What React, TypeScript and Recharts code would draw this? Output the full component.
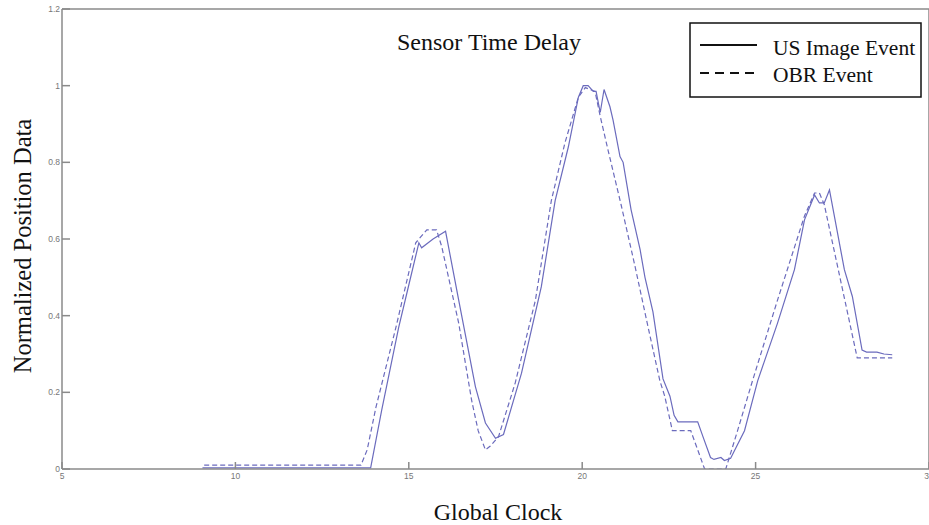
import React from 'react';
import { LineChart, Line, XAxis, YAxis, Customized } from 'recharts';

const usX = [9.05, 13.9, 14.22, 14.71, 15.0, 15.29, 15.37, 15.7, 16.06, 16.44, 16.92, 17.21, 17.5, 17.73, 18.25, 18.82, 19.22, 19.6, 19.89, 20.03, 20.17, 20.32, 20.4, 20.52, 20.63, 20.8, 20.89, 21.09, 21.18, 21.41, 21.67, 21.81, 22.04, 22.33, 22.53, 22.65, 22.76, 23.33, 23.5, 23.7, 23.8, 24.0, 24.1, 24.28, 24.68, 25.06, 25.63, 26.12, 26.41, 26.7, 26.84, 26.98, 27.13, 27.56, 27.79, 28.07, 28.2, 28.5, 28.7, 28.94];
const usY = [0.003, 0.003, 0.154, 0.37, 0.48, 0.59, 0.577, 0.6, 0.62, 0.44, 0.215, 0.12, 0.08, 0.09, 0.25, 0.475, 0.7, 0.84, 0.97, 1.0, 1.0, 0.985, 0.985, 0.93, 0.99, 0.945, 0.91, 0.815, 0.8, 0.676, 0.572, 0.5, 0.41, 0.235, 0.19, 0.14, 0.123, 0.123, 0.08, 0.03, 0.025, 0.03, 0.022, 0.028, 0.1, 0.23, 0.38, 0.52, 0.65, 0.715, 0.694, 0.694, 0.728, 0.52, 0.45, 0.31, 0.305, 0.305, 0.3, 0.298];

const obrX = [9.1, 13.62, 13.8, 14.05, 14.63, 15.2, 15.52, 15.8, 15.95, 16.44, 16.81, 17.0, 17.21, 17.35, 17.59, 18.07, 18.65, 19.11, 19.5, 19.89, 20.09, 20.37, 20.52, 20.75, 21.12, 21.52, 21.9, 22.24, 22.38, 22.6, 23.13, 23.53, 24.14, 24.48, 24.91, 25.63, 26.41, 26.7, 26.84, 26.98, 27.93, 28.94];
const obrY = [0.01, 0.01, 0.05, 0.16, 0.37, 0.59, 0.624, 0.624, 0.58, 0.38, 0.18, 0.1, 0.05, 0.06, 0.085, 0.225, 0.44, 0.7, 0.85, 0.97, 0.995, 0.985, 0.92, 0.83, 0.69, 0.53, 0.37, 0.23, 0.19, 0.1, 0.1, 0.0, 0.0, 0.1, 0.23, 0.44, 0.66, 0.72, 0.72, 0.69, 0.29, 0.29];

const xTicks = [5, 10, 15, 20, 25, 30];
const yTicks = [0, 0.2, 0.4, 0.6, 0.8, 1, 1.2];

const usData = usX.map((x, i) => ({ x, y: usY[i] }));
const obrData = obrX.map((x, i) => ({ x, y: obrY[i] }));

const LINE = '#6b6bbd';
const AXIS = '#8a8a8a';
const SERIF = '"Liberation Serif", "Times New Roman", serif';
const tickStyle = { fontSize: 8.5, fill: '#777', fontFamily: '"Liberation Sans", Arial, sans-serif' };

const Overlay = () => (
  <g>
    <text x={489} y={50} textAnchor="middle" fontFamily={SERIF} fontSize={24} fill="#111">Sensor Time Delay</text>
    <rect x={690} y={23} width={231} height={74} fill="#fff" stroke="#111" strokeWidth={1.5} />
    <line x1={700} x2={757} y1={45} y2={45} stroke="#111" strokeWidth={2} />
    <line x1={700} x2={757} y1={73} y2={73} stroke="#111" strokeWidth={2} strokeDasharray="9 6" />
    <text x={773} y={55} fontFamily={SERIF} fontSize={21.5} fill="#111">US Image Event</text>
    <text x={773} y={82} fontFamily={SERIF} fontSize={21.5} fill="#111">OBR Event</text>
    <text x={498} y={520} textAnchor="middle" fontFamily={SERIF} fontSize={24} fill="#111">Global Clock</text>
    <text x={0} y={0} transform="translate(31,246) rotate(-90)" textAnchor="middle" fontFamily={SERIF} fontSize={24.5} fill="#111">Normalized Position Data</text>
  </g>
);

export default function App() {
  return (
    <div style={{ position: 'absolute', left: 0, top: 0, background: '#fff' }}>
      <LineChart width={929} height={525} margin={{ top: 9, right: 0, bottom: 0, left: 0 }}>
        <XAxis
          xAxisId="b"
          type="number"
          dataKey="x"
          domain={[5, 30]}
          ticks={xTicks}
          interval={0}
          height={56}
          tickSize={-7}
          tickMargin={11}
          tick={tickStyle}
          stroke={AXIS}
          strokeWidth={1.5}
          allowDataOverflow
        />
        <XAxis
          xAxisId="t"
          orientation="top"
          type="number"
          dataKey="x"
          domain={[5, 30]}
          ticks={xTicks}
          interval={0}
          height={1}
          mirror
          tick={false}
          tickSize={7}
          stroke={AXIS}
          strokeWidth={1.5}
          allowDataOverflow
        />
        <YAxis
          yAxisId="l"
          type="number"
          domain={[0, 1.2]}
          ticks={yTicks}
          interval={0}
          width={62}
          tickSize={-8}
          tickMargin={10}
          tick={tickStyle}
          stroke={AXIS}
          strokeWidth={1.5}
          allowDataOverflow
        />
        <YAxis
          yAxisId="r"
          orientation="right"
          type="number"
          domain={[0, 1.2]}
          ticks={yTicks}
          interval={0}
          width={1}
          mirror
          tick={false}
          tickSize={7}
          stroke={AXIS}
          strokeWidth={1.5}
          allowDataOverflow
        />
        <Line xAxisId="b" yAxisId="l" data={usData} dataKey="y" type="linear" stroke={LINE} strokeWidth={1.2} dot={false} isAnimationActive={false} />
        <Line xAxisId="b" yAxisId="l" data={obrData} dataKey="y" type="linear" stroke={LINE} strokeWidth={1.2} strokeDasharray="5 3" dot={false} isAnimationActive={false} />
        <Line xAxisId="t" yAxisId="r" data={usData} dataKey="y" type="linear" stroke="none" dot={false} isAnimationActive={false} />
        <Customized component={Overlay} />
      </LineChart>
    </div>
  );
}
